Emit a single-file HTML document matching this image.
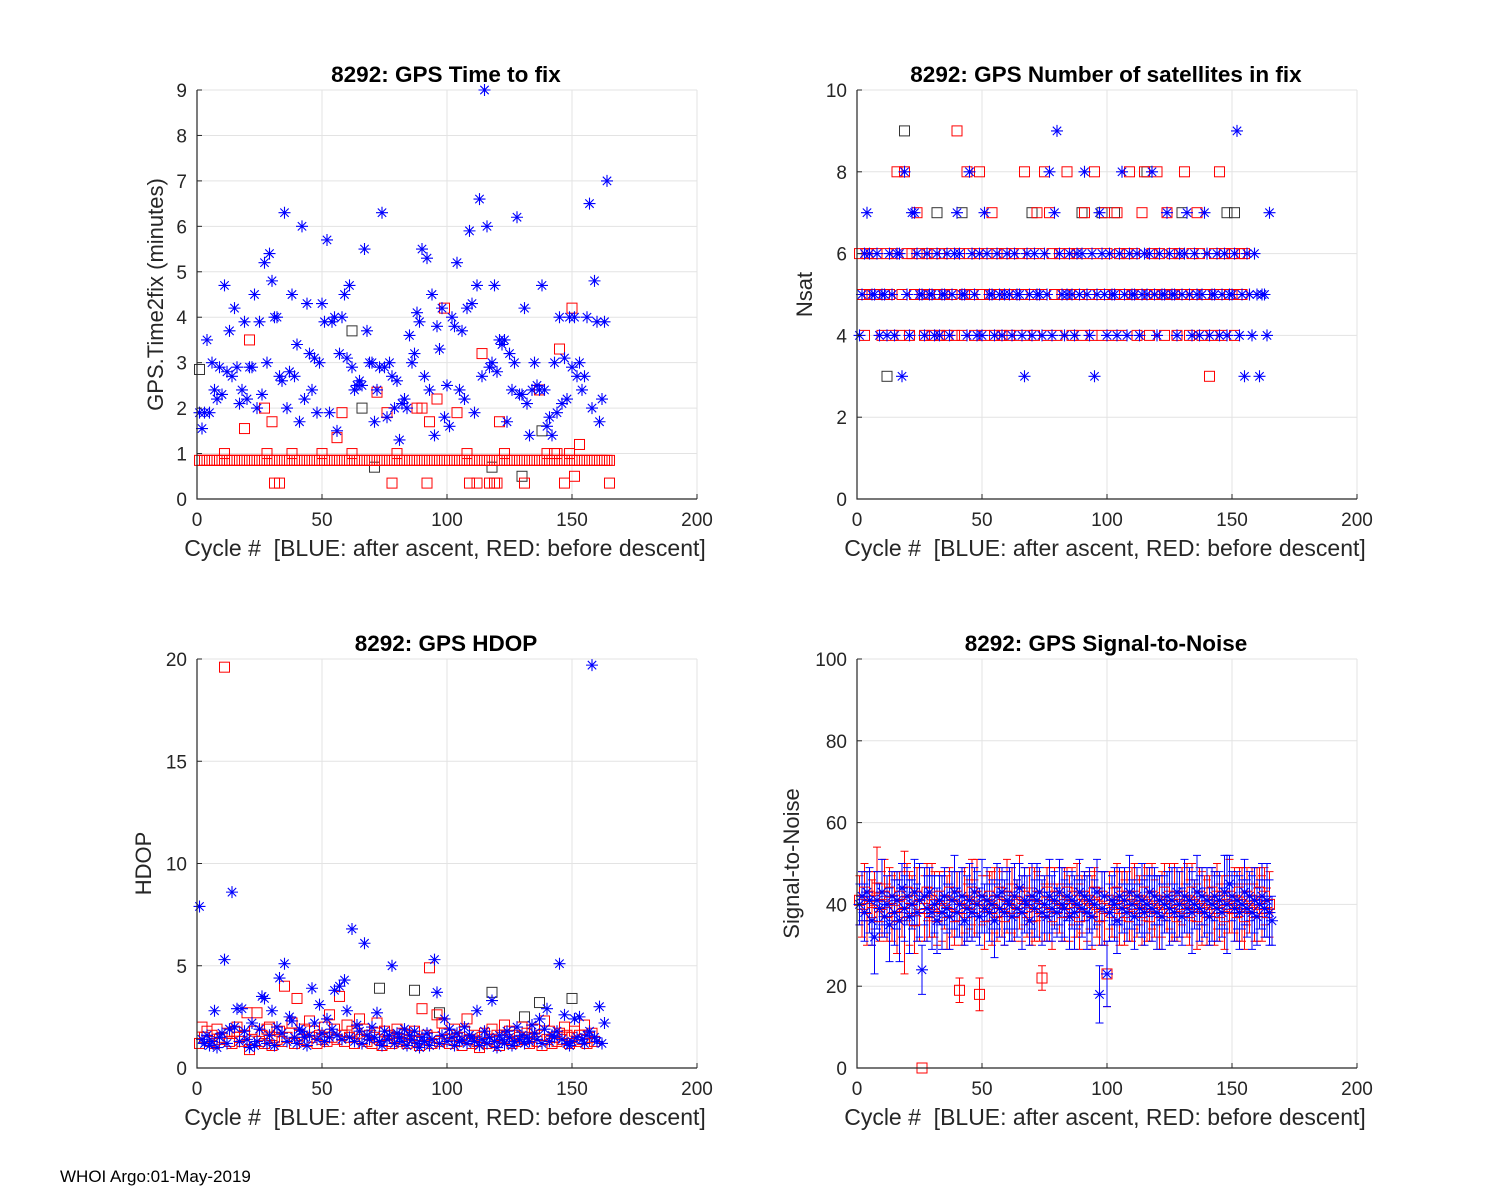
<!DOCTYPE html>
<html><head><meta charset="utf-8">
<style>
html,body{margin:0;padding:0;background:#fff;}
svg{display:block;font-family:"Liberation Sans",Arial,sans-serif;}
</style></head>
<body>
<svg id="fig" width="1500" height="1200" viewBox="0 0 1500 1200" xmlns="http://www.w3.org/2000/svg">
<rect width="1500" height="1200" fill="#fff"/>
<text x="60" y="1182" font-size="17" fill="#000">WHOI Argo:01-May-2019</text>
</svg>
<script>
// ---------- Panel 1: time to fix ----------
const ttfBlue=[1.9,1.55,1.9,3.5,1.9,3.0,2.4,2.2,2.9,2.3,4.7,2.8,3.7,2.7,4.2,2.9,2.1,2.4,3.9,2.2,2.9,2.9,4.5,2.0,3.9,2.3,5.2,3.0,5.4,4.8,4.0,4.0,2.7,2.6,6.3,2.0,2.8,4.5,2.7,3.4,1.7,6.0,2.2,4.3,3.2,2.4,3.1,1.9,3.0,4.3,3.9,5.7,1.9,3.9,4.0,1.5,3.2,4.0,4.5,3.1,4.7,2.9,2.4,2.5,2.6,2.5,5.5,3.7,3.0,3.0,1.7,2.4,2.9,6.3,2.9,1.8,3.0,2.7,2.0,2.6,1.3,2.1,2.2,2.0,3.6,3.0,3.2,4.1,3.9,5.5,2.7,5.3,2.4,4.5,1.4,3.8,3.3,4.2,1.8,2.5,1.6,4.0,3.8,5.2,2.4,3.7,2.2,4.2,5.9,4.3,1.9,4.7,6.6,2.7,9.0,6.0,2.9,3.0,4.7,2.8,3.5,3.4,3.5,1.7,3.2,2.4,3.0,6.2,2.3,2.3,4.2,2.1,1.4,2.4,3.0,2.5,2.4,4.7,2.4,1.6,1.8,1.4,3.0,1.9,4.0,2.1,3.1,2.2,4.0,2.9,4.0,2.7,3.0,2.4,2.7,4.0,6.5,2.0,4.8,3.9,1.7,2.2,3.9,7.0];
const ttfRedBaseline=0.85;
const ttfRedBaseCount=165;
const ttfRedX=[11,19,21,27,28,30,31,33,38,50,56,58,62,72,76,78,80,88,90,92,93,96,99,104,108,109,112,114,117,119,120,121,123,131,137,140,143,144,145,147,149,150,151,153,165];
const ttfRedY=[1.0,1.55,3.5,2.0,1.0,1.7,0.35,0.35,1.0,1.0,1.35,1.9,1.0,2.35,1.9,0.35,1.0,2.0,2.0,0.35,1.7,2.2,4.2,1.9,1.0,0.35,0.35,3.2,0.35,0.35,0.35,1.7,1.0,0.35,2.4,1.0,1.0,1.0,3.3,0.35,1.0,4.2,0.5,1.2,0.35];
const ttfBlackX=[1,62,66,71,118,130,138];
const ttfBlackY=[2.85,3.7,2.0,0.7,0.7,0.5,1.5];

// ---------- Panel 2: number of satellites ----------
const nsatBlue=[4,5,6,7,6,5,5,6,4,5,5,4,6,5,4,6,6,3,8,5,4,7,7,6,5,5,4,6,5,5,4,6,4,5,5,6,4,5,6,7,6,5,5,4,8,6,5,4,6,4,7,6,5,5,4,6,5,4,5,6,5,4,6,5,5,4,3,6,5,4,6,5,5,4,6,5,8,4,7,9,6,5,4,5,6,5,4,6,5,6,8,5,4,6,3,5,7,6,5,4,6,5,5,4,6,8,5,4,6,5,5,6,4,5,6,5,6,8,5,4,6,5,5,7,6,5,5,4,6,5,6,7,5,4,6,5,4,5,7,6,4,5,5,6,4,5,6,4,5,5,6,9,4,5,3,6,5,4,6,5,3,5,5,4,7];
const nsatRed=[6,5,4,6,5,6,5,6,5,4,5,6,5,4,6,8,4,5,8,6,4,6,5,7,6,5,4,6,5,4,6,5,4,6,5,4,6,5,4,9,6,4,5,8,6,5,4,6,8,5,4,6,5,7,4,6,5,4,6,5,4,6,5,4,6,5,8,4,6,5,4,7,6,5,8,4,7,6,5,4,6,5,5,8,6,4,5,6,5,4,7,6,5,4,8,6,5,4,7,6,5,4,5,7,6,4,5,6,8,5,6,4,5,7,8,5,4,6,5,8,6,5,4,7,5,6,5,4,6,5,8,5,4,6,5,7,6,4,5,5,3,4,6,5,8,4,6,5,5,6,4,5,6,5,6];
const nsatBlackX=[12,19,32,42,70,90,98,103,116,130,148,151];
const nsatBlackY=[3,9,7,7,7,7,7,7,8,7,7,7];

// ---------- Panel 3: HDOP ----------
const hdopBlue=[7.9,1.4,1.2,1.6,1.1,1.3,2.8,1.0,1.5,1.7,5.3,1.2,1.9,8.6,2.0,2.9,1.3,2.9,1.8,1.4,1.0,2.2,1.1,1.3,1.9,3.5,3.4,1.2,1.6,2.8,1.1,2.0,4.4,1.7,5.1,1.3,2.5,2.3,1.5,1.2,1.9,1.8,1.5,1.1,1.6,3.9,2.2,1.4,3.1,1.7,1.3,2.4,1.5,1.9,3.8,1.6,4.0,1.4,4.3,2.8,1.5,6.8,1.3,2.1,1.8,1.2,6.1,1.6,1.4,2.0,1.5,2.7,1.3,1.1,1.8,1.4,1.6,5.0,1.2,1.7,1.5,1.3,1.9,1.1,1.6,1.4,1.8,1.2,1.0,1.5,1.3,1.7,1.1,1.4,5.3,3.7,1.2,1.6,2.4,1.3,1.9,1.5,1.1,1.7,1.3,1.4,2.0,1.2,1.6,1.5,1.3,2.8,1.1,1.4,1.8,1.2,1.5,3.3,1.3,1.0,1.6,1.4,1.2,1.8,1.5,1.1,1.3,2.0,1.4,1.6,1.2,1.5,1.3,2.1,1.7,1.4,2.4,1.2,1.9,2.9,1.3,1.6,1.5,1.8,5.1,1.4,2.6,1.2,1.1,1.3,2.4,1.5,2.5,1.4,1.2,1.6,1.8,19.7,1.5,1.3,3.0,1.2,2.2];
const hdopRed=[1.2,2.0,1.5,1.8,1.3,1.6,1.2,1.9,1.4,1.5,19.6,1.7,1.3,1.2,1.8,2.0,1.5,1.3,1.6,2.7,0.9,1.4,1.8,2.7,1.3,1.6,1.2,1.9,2.0,1.1,1.5,1.4,1.8,1.3,4.0,1.5,1.7,2.2,1.2,3.4,1.6,1.4,1.9,1.3,2.3,1.5,1.8,1.2,1.6,1.4,2.0,1.3,2.6,1.5,1.9,1.4,3.5,1.6,1.3,2.1,1.5,1.8,1.2,1.7,2.4,1.4,1.9,1.3,1.6,1.2,1.5,2.2,1.4,1.1,1.8,1.3,1.6,1.2,1.5,1.9,1.3,1.7,1.4,1.2,1.6,1.5,1.8,1.3,1.1,2.9,1.4,1.6,4.9,1.2,1.5,2.6,1.3,2.2,1.7,1.4,1.2,1.6,1.9,1.3,1.5,1.1,1.8,2.4,1.4,1.2,1.6,1.3,1.0,1.5,1.7,1.2,1.4,1.9,1.3,1.6,1.1,1.5,2.1,1.4,1.8,1.2,1.6,1.3,1.5,2.0,1.4,1.7,1.2,1.5,1.9,1.3,1.6,1.1,2.3,1.4,1.8,1.2,1.5,1.3,1.7,1.4,2.0,1.6,1.2,1.5,1.8,1.3,1.6,1.4,2.1,1.2,1.5,1.7,1.3];
const hdopBlackX=[73,87,97,118,131,137,150];
const hdopBlackY=[3.9,3.8,2.7,3.7,2.5,3.2,3.4];

// ---------- Panel 4: signal-to-noise ----------
const snrBlue=[40,42,38,43,41,36,32,41,39,43,37,40,35,42,38,41,36,44,39,42,37,40,43,38,41,24,42,39,43,38,40,36,41,38,42,39,37,41,43,38,40,42,36,39,41,38,43,40,37,42,39,41,38,40,36,42,39,43,38,41,40,37,42,39,44,38,41,40,36,42,39,41,43,38,40,37,42,39,41,38,43,40,39,42,37,41,38,40,43,39,42,38,41,37,40,43,18,39,42,23,38,41,40,36,42,39,41,38,43,40,37,42,39,41,38,40,43,39,42,38,41,37,40,42,39,41,38,43,40,37,42,39,41,38,40,43,39,42,38,41,37,40,42,39,41,38,43,40,45,42,39,41,38,40,43,39,42,38,41,37,40,42,39,41,38,36];
const snrBlueErr=[5,6,7,5,8,6,9,7,6,8,5,7,9,6,8,7,10,6,8,7,9,6,8,7,9,6,7,8,6,9,7,8,6,9,7,6,8,7,9,6,8,7,6,8,9,7,6,8,7,9,6,8,7,6,9,8,7,6,8,7,9,6,8,7,6,9,8,7,6,8,7,9,6,8,7,6,9,8,7,6,8,9,7,6,8,7,9,6,8,7,6,9,8,7,6,8,7,9,6,8,7,6,9,8,7,6,8,7,9,6,8,7,6,9,8,7,6,8,7,9,6,8,7,6,9,8,7,6,8,7,9,6,8,10,6,9,8,7,6,8,7,9,6,8,7,6,9,12,7,6,8,7,9,6,8,7,6,9,8,7,6,8,7,9,8,6];
const snrRed=[41,40,43,39,42,38,41,44,37,40,42,38,43,39,41,37,42,40,38,43,39,41,36,42,40,0,39,43,38,41,40,37,42,39,41,38,43,40,37,42,19,39,41,38,40,43,39,42,18,41,37,40,42,39,41,38,43,40,37,42,39,41,38,40,43,39,42,38,41,37,40,42,39,22,38,43,40,37,42,39,41,38,40,43,39,42,38,41,37,40,42,39,41,38,43,40,37,42,39,23,41,38,40,43,39,42,38,41,37,40,42,39,41,38,43,40,37,42,39,41,38,40,43,39,42,38,41,37,40,42,39,41,38,43,40,37,42,39,41,38,40,43,39,42,38,41,37,40,42,39,41,38,43,40,37,42,39,41,38,40,43,39,42,38,40];
const snrRedErr=[6,8,7,9,6,8,7,10,6,8,9,7,6,8,7,9,6,8,15,7,9,6,8,7,9,0,8,7,6,9,8,7,6,8,7,9,6,8,7,6,3,9,8,7,6,8,7,9,4,6,8,7,6,9,8,7,6,8,7,9,6,8,7,6,9,8,7,6,8,7,9,6,8,3,7,6,9,8,7,6,8,7,9,6,8,7,6,9,8,7,6,8,7,9,6,8,7,6,9,8,7,6,8,7,9,6,8,7,6,9,8,7,6,8,7,9,6,8,7,6,9,8,7,6,8,7,9,6,8,7,6,9,8,7,6,8,7,9,6,8,7,6,9,8,7,6,8,7,9,6,8,7,6,9,8,7,6,8,7,9,6,8,7,6,8];

const xTicks=[0,50,100,150,200];
const svg=document.getElementById('fig');
const NS='http://www.w3.org/2000/svg';
function mk(tag,attrs,parent){const e=document.createElementNS(NS,tag);for(const k in attrs)e.setAttribute(k,attrs[k]);(parent||svg).appendChild(e);return e;}

function makeAxes(p){
  const g=mk('g',{});
  
  
  const sx=v=>p.x0+(v-0)/(200)*(p.x1-p.x0);
  const sy=v=>p.y0-(v-p.ymin)/(p.ymax-p.ymin)*(p.y0-p.y1);
  xTicks.forEach(t=>{const l=mk('line',{x1:sx(t),x2:sx(t),y1:p.y1,y2:p.y0,stroke:'#e3e3e3','stroke-width':1},g);
    });
  p.yTicks.forEach(t=>{const l=mk('line',{x1:p.x0,x2:p.x1,y1:sy(t),y2:sy(t),stroke:'#e3e3e3','stroke-width':1},g);
    });
  const plot=mk('g',{},g);
  
  
  const ax=mk('path',{d:`M${p.x0},${p.y1}V${p.y0}H${p.x1}`,fill:'none',stroke:'#262626','stroke-width':1.2},g);
  
  xTicks.forEach(t=>{mk('line',{x1:sx(t),x2:sx(t),y1:p.y0,y2:p.y0-5,stroke:'#262626'},g);
    const tx=mk('text',{x:sx(t),y:p.y0+27,'text-anchor':'middle','font-size':19,fill:'#262626'},g);tx.textContent=t;
    });
  p.yTicks.forEach(t=>{mk('line',{x1:p.x0,x2:p.x0+5,y1:sy(t),y2:sy(t),stroke:'#262626'},g);
    const tx=mk('text',{x:p.x0-10,y:sy(t)+7,'text-anchor':'end','font-size':19,fill:'#262626'},g);tx.textContent=t;
    });
  const ti=mk('text',{x:(p.x0+p.x1)/2-1,y:p.y1-8,'text-anchor':'middle','font-size':22.5,'font-weight':'bold',fill:'#000'},g);
  ti.textContent=p.title;
  const xl=mk('text',{x:(p.x0+p.x1)/2-2,y:p.y0+57,'text-anchor':'middle','font-size':23,fill:'#262626',style:'white-space:pre'},g);
  xl.textContent='Cycle #  [BLUE: after ascent, RED: before descent]';
  
  const yl=mk('text',{x:0,y:0,'text-anchor':'middle','font-size':22,fill:'#262626',transform:`translate(${p.ylx},${(p.y0+p.y1)/2}) rotate(-90)`},g);
  yl.textContent=p.ylabel;
  return {sx,sy,plot};
}
function square(a,x,y,c){const r=mk('rect',{x:a.sx(x)-5,y:a.sy(y)-5,width:10,height:10,fill:'none',stroke:c,'stroke-width':1},a.plot);
  }
function star(a,x,y,c){const cx=a.sx(x),cy=a.sy(y),r=6;
  const p=mk('path',{d:`M${cx-r},${cy}H${cx+r}M${cx},${cy-r}V${cy+r}M${cx-r*.7},${cy-r*.7}L${cx+r*.7},${cy+r*.7}M${cx-r*.7},${cy+r*.7}L${cx+r*.7},${cy-r*.7}`,stroke:c,'stroke-width':1.1,fill:'none'},a.plot);
  }
function errbar(a,x,y,e,c){const cx=a.sx(x),t=a.sy(y+e),b=a.sy(y-e);
  const p=mk('path',{d:`M${cx},${t}V${b}M${cx-4},${t}H${cx+4}M${cx-4},${b}H${cx+4}`,stroke:c,'stroke-width':1,fill:'none'},a.plot);
  }

const BLUE='#0000ff',RED='#ff0000',BLK='#333';
const a1=makeAxes({name:'time-to-fix-panel',x0:197,x1:697,y0:499,y1:90,ymin:0,ymax:9,yTicks:[0,1,2,3,4,5,6,7,8,9],title:'8292: GPS Time to fix',ylabel:'GPS.Time2fix (minutes)',ylx:163});
ttfBlackX.forEach((x,i)=>square(a1,x,ttfBlackY[i],BLK));
for(let i=1;i<=ttfRedBaseCount;i++)square(a1,i,ttfRedBaseline,RED);
ttfRedX.forEach((x,i)=>square(a1,x,ttfRedY[i],RED));
ttfBlue.forEach((v,i)=>star(a1,i+1,v,BLUE));
const a2=makeAxes({name:'num-satellites-panel',x0:857,x1:1357,y0:499,y1:90,ymin:0,ymax:10,yTicks:[0,2,4,6,8,10],title:'8292: GPS Number of satellites in fix',ylabel:'Nsat',ylx:812});
nsatBlackX.forEach((x,i)=>square(a2,x,nsatBlackY[i],BLK));
nsatRed.forEach((v,i)=>square(a2,i+1,v,RED));
nsatBlue.forEach((v,i)=>star(a2,i+1,v,BLUE));
const a3=makeAxes({name:'hdop-panel',x0:197,x1:697,y0:1068,y1:659,ymin:0,ymax:20,yTicks:[0,5,10,15,20],title:'8292: GPS HDOP',ylabel:'HDOP',ylx:151});
hdopBlackX.forEach((x,i)=>square(a3,x,hdopBlackY[i],BLK));
hdopRed.forEach((v,i)=>square(a3,i+1,v,RED));
hdopBlue.forEach((v,i)=>star(a3,i+1,v,BLUE));
const a4=makeAxes({name:'signal-to-noise-panel',x0:857,x1:1357,y0:1068,y1:659,ymin:0,ymax:100,yTicks:[0,20,40,60,80,100],title:'8292: GPS Signal-to-Noise',ylabel:'Signal-to-Noise',ylx:799});
snrRed.forEach((v,i)=>{errbar(a4,i+1,v,snrRedErr[i],RED);});
snrBlue.forEach((v,i)=>{errbar(a4,i+1,v,snrBlueErr[i],BLUE);});
snrRed.forEach((v,i)=>square(a4,i+1,v,RED));
snrBlue.forEach((v,i)=>star(a4,i+1,v,BLUE));
</script>
</body></html>
